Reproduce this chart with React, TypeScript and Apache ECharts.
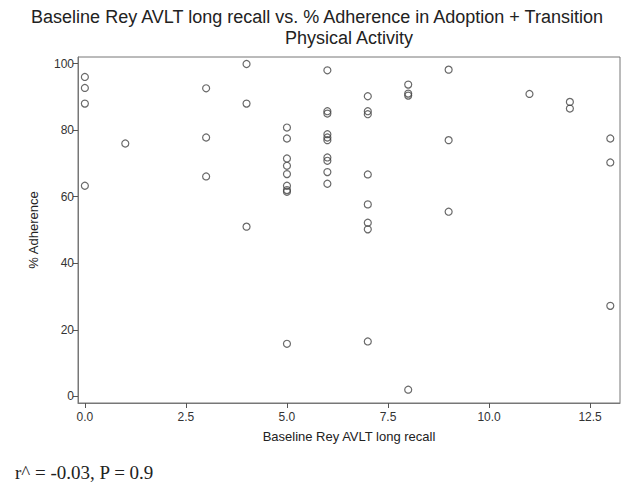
import React, { useEffect, useRef } from "react";
import * as echarts from "echarts";

const titleLines = [
  "Baseline Rey AVLT long recall vs. % Adherence in Adoption + Transition",
  "Physical Activity",
];
const xAxisTitle = "Baseline Rey AVLT long recall";
const yAxisTitle = "% Adherence";
const footnote = "r^ = -0.03, P = 0.9";

const xTicks = [0, 2.5, 5, 7.5, 10, 12.5];
const yTicks = [0, 20, 40, 60, 80, 100];

// Baseline Rey AVLT long recall (x) and % adherence (y), one entry per participant
const recallValues = [
  0, 0, 0, 0,
  1,
  3, 3, 3,
  4, 4, 4,
  5, 5, 5, 5, 5, 5, 5, 5, 5,
  6, 6, 6, 6, 6, 6, 6, 6, 6, 6,
  7, 7, 7, 7, 7, 7, 7, 7,
  8, 8, 8, 8,
  9, 9, 9,
  11,
  12, 12,
  13, 13, 13,
];
const adherenceValues = [
  96.0, 92.7, 88.0, 63.3,
  76.0,
  92.6, 77.8, 66.1,
  99.9, 88.0, 51.0,
  80.8, 77.5, 71.5, 69.3, 66.8, 63.3, 62.0, 61.5, 15.8,
  98.0, 85.7, 85.0, 78.8, 77.8, 77.0, 71.8, 70.8, 67.4, 63.9,
  90.2, 85.7, 84.8, 66.7, 57.7, 52.2, 50.2, 16.5,
  93.7, 91.0, 90.4, 2.0,
  98.2, 77.0, 55.5,
  90.9,
  88.5, 86.5,
  77.5, 70.3, 27.2,
];

export default function App() {
  const ref = useRef<HTMLDivElement>(null);
  useEffect(() => {
    document.body.style.margin = "0";
    if (!ref.current) return;
    const chart = echarts.init(ref.current, null, { renderer: "svg" });
    const points = recallValues.map((x, i) => [x, adherenceValues[i]]);
    const sans = "Liberation Sans, Arial, sans-serif";
    const titleCenters = [317, 349];
    chart.setOption({
      animation: false,
      backgroundColor: "#ffffff",
      grid: {
        left: 78,
        right: 11,
        top: 57,
        bottom: 86,
        show: true,
        borderColor: "#777",
        borderWidth: 1,
        backgroundColor: "transparent",
      },
      xAxis: {
        type: "value",
        min: -0.17,
        max: 13.24,
        name: xAxisTitle,
        nameLocation: "middle",
        nameGap: 27,
        nameTextStyle: { fontFamily: sans, fontSize: 13, color: "#222" },
        axisLine: { show: true, onZero: false, lineStyle: { color: "#777" } },
        axisTick: {
          show: true,
          length: 5,
          customValues: xTicks,
          lineStyle: { color: "#555" },
        },
        axisLabel: {
          customValues: xTicks,
          formatter: (v: number) => v.toFixed(1),
          fontFamily: sans,
          fontSize: 12,
          color: "#333",
          margin: 8,
        },
        splitLine: { show: false },
      },
      yAxis: {
        type: "value",
        min: -2,
        max: 102,
        name: yAxisTitle,
        nameLocation: "middle",
        nameGap: 38,
        nameRotate: 90,
        nameTextStyle: { fontFamily: sans, fontSize: 13, color: "#222" },
        axisLine: { show: true, onZero: false, lineStyle: { color: "#777" } },
        axisTick: {
          show: true,
          length: 5,
          customValues: yTicks,
          lineStyle: { color: "#555" },
        },
        axisLabel: {
          customValues: yTicks,
          fontFamily: sans,
          fontSize: 12,
          color: "#333",
          margin: 4,
        },
        splitLine: { show: false },
      },
      series: [
        {
          type: "scatter",
          data: points,
          symbol: "circle",
          symbolSize: 7,
          itemStyle: {
            color: "transparent",
            borderColor: "#444",
            borderWidth: 1.2,
          },
        },
      ],
      graphic: [
        ...titleLines.map((t, i) => ({
          type: "text",
          x: titleCenters[i],
          y: 17 + i * 21,
          style: {
            text: t,
            font: "18px 'Liberation Sans', Arial, sans-serif",
            fill: "#222",
            textAlign: "center",
            textVerticalAlign: "middle",
          },
        })),
        {
          type: "text",
          x: 15,
          y: 472,
          style: {
            text: footnote,
            font: "19px 'Liberation Serif', 'Times New Roman', serif",
            fill: "#222",
            textAlign: "left",
            textVerticalAlign: "middle",
          },
        },
      ],
    });
    return () => chart.dispose();
  }, []);
  return <div ref={ref} style={{ width: 631, height: 489 }} />;
}
